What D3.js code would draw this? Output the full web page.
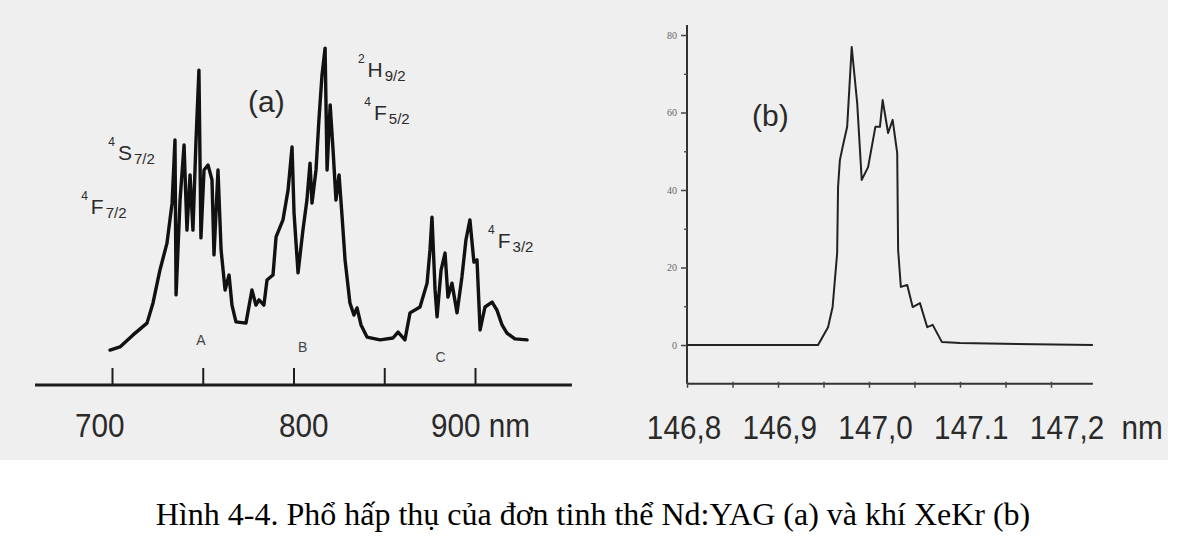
<!DOCTYPE html>
<html>
<head>
<meta charset="utf-8">
<script src="https://cdn.jsdelivr.net/npm/d3@7"></script>
<style>
  html, body { margin: 0; padding: 0; background: #ffffff; }
  svg { display: block; }
</style>
</head>
<body>
<svg id="chart" width="1180" height="542"></svg>
<script>
// ---------- DATA ----------
// Panel (a): Nd:YAG absorption spectrum (wavelength nm, arbitrary absorbance)
const ndyagWavelength = [698.9,704.4,711.6,719.3,722.6,726.4,730.3,733.1,734.7,735.3,737.5,739.7,741.3,743.0,744.6,746.3,747.9,749.0,750.7,752.9,755.1,756.2,758.4,760.1,762.3,764.5,766.1,768.3,773.8,777.1,779.3,781.0,783.7,785.4,788.7,790.4,794.2,797.0,799.2,800.3,802.5,805.2,807.4,809.1,810.2,812.4,814.0,815.7,817.4,818.5,820.2,821.8,823.4,825.1,826.7,828.4,831.1,833.3,835.0,837.2,840.5,847.7,854.8,857.6,861.4,864.2,869.7,873.6,875.2,876.3,878.0,879.1,881.3,883.5,885.1,887.3,890.1,892.8,895.0,897.2,899.4,901.1,902.8,905.5,909.4,912.1,914.9,917.6,922.0,928.7];
const ndyagAbsorbance = [3.2,4.2,8.1,11.9,18.4,29.0,37.7,50.6,71.0,21.0,51.6,69.4,41.9,59.7,41.9,71.0,93.5,39.4,61.3,62.9,58.1,33.9,61.3,35.5,22.6,27.4,17.7,12.3,11.9,22.6,17.7,19.4,17.7,25.8,27.4,39.7,45.2,54.8,68.7,47.4,28.1,41.9,51.6,63.5,50.6,61.3,77.4,91.9,100.6,61.3,82.3,67.7,51.6,59.7,46.8,32.3,18.4,14.5,16.8,11.3,7.4,6.5,7.1,9.0,6.5,15.2,17.1,24.8,35.5,46.1,22.6,13.9,29.0,34.5,20.3,24.8,15.2,26.8,38.7,45.2,31.6,32.3,9.7,17.1,18.7,16.1,11.3,8.7,6.8,6.5];
const ndyagTicks = [700, 750, 800, 850, 900];
const ndyagTickLabels = ["700", "800", "900 nm"];
const ndyagTickLabelAt = [679.6, 792.0, 875.8];   // nm where each label starts
const ndyagAxisExtent = [657.6, 953.4];
const ndyagBands = ["A", "B", "C"];
const ndyagBandAt = [[749.0, 5], [805.0, 2.6], [881.0, -0.6]];
const ndyagLevels = [
  { sup: "4", main: "S", sub: "7/2" },
  { sup: "4", main: "F", sub: "7/2" },
  { sup: "2", main: "H", sub: "9/2" },
  { sup: "4", main: "F", sub: "5/2" },
  { sup: "4", main: "F", sub: "3/2" }
];
const ndyagLevelAt = [[697.9, 64.5], [683.0, 47.1], [835.5, 91.3], [839.0, 77.4], [907.2, 36.1]];

// Panel (b): XeKr absorption spectrum
const xekrWavelength = [146.800,146.944,146.955,146.960,146.965,146.966,146.968,146.971,146.976,146.981,146.987,146.992,146.999,147.007,147.012,147.015,147.021,147.026,147.031,147.032,147.035,147.042,147.048,147.056,147.064,147.070,147.080,147.100,147.246];
const xekrAbsorbance = [0,0,4.6,9.8,23.7,40.8,47.7,51.1,56.3,76.9,62.5,42.6,45.9,56.3,56.3,63.2,54.7,58.1,49.5,24.5,15.0,15.5,9.8,10.8,4.6,5.2,0.8,0.5,0];
const xekrYTicks = [0, 20, 40, 60, 80];
const xekrYMinor = [10, 30, 50, 70];
const xekrXTicks = [146.80,146.85,146.90,146.95,147.00,147.05,147.10,147.15,147.20];
const xekrTickLabels = ["146,8", "146,9", "147,0", "147.1", "147,2"];
const xekrXExtent = [146.8, 147.246];
const xekrYExtent = [-10, 82.6];

const panelTags = ["(a)", "(b)"];
const caption = "Hình 4-4. Phổ hấp thụ của đơn tinh thể Nd:YAG (a) và khí XeKr (b)";

// ---------- DRAW ----------
const svg = d3.select("#chart");
const ink = "#1c1c1c";
const labelFont = "'Liberation Sans', Arial, sans-serif";
const narrow = 0.9;

// photographic figure background
svg.append("rect").attr("x", 0).attr("y", 0).attr("width", 1168).attr("height", 460)
  .attr("fill", "#efefef");

// ----- panel (a) -----
const xA = d3.scaleLinear().domain([700, 900]).range([112, 475]);
const yA = d3.scaleLinear().domain([0, 100]).range([360, 50]);
const axisYA = 385;

svg.append("line")
  .attr("x1", xA(ndyagAxisExtent[0])).attr("x2", xA(ndyagAxisExtent[1]))
  .attr("y1", axisYA).attr("y2", axisYA)
  .attr("stroke", ink).attr("stroke-width", 3);

const gAxA = svg.append("g").attr("transform", `translate(0,${axisYA})`)
  .call(d3.axisTop(xA).tickValues(ndyagTicks).tickSize(17).tickFormat(""));
gAxA.select(".domain").remove();
gAxA.selectAll(".tick line").attr("stroke", ink).attr("stroke-width", 2);

svg.append("g").selectAll("text").data(ndyagTickLabels).join("text")
  .attr("transform", (d, i) => `translate(${xA(ndyagTickLabelAt[i])},437) scale(${narrow},1)`)
  .attr("font-family", labelFont).attr("font-size", 33)
  .attr("fill", "#2a2a2a")
  .text(d => d);

const lineA = d3.line()
  .x((d, i) => xA(ndyagWavelength[i]))
  .y(d => yA(d));
svg.append("path").datum(ndyagAbsorbance)
  .attr("d", lineA)
  .attr("fill", "none").attr("stroke", "#111")
  .attr("stroke-width", 3.4).attr("stroke-linejoin", "round").attr("stroke-linecap", "round");

svg.append("g").selectAll("text").data(ndyagBands).join("text")
  .attr("x", (d, i) => xA(ndyagBandAt[i][0]))
  .attr("y", (d, i) => yA(ndyagBandAt[i][1]))
  .attr("text-anchor", "middle")
  .attr("font-family", "'Liberation Sans', sans-serif").attr("font-size", 14)
  .attr("fill", "#444")
  .text(d => d);

const lv = svg.append("g").selectAll("text").data(ndyagLevels).join("text")
  .attr("x", (d, i) => xA(ndyagLevelAt[i][0]))
  .attr("y", (d, i) => yA(ndyagLevelAt[i][1]))
  .attr("font-family", "'Liberation Sans', sans-serif")
  .attr("fill", "#2a2a2a");
lv.append("tspan").attr("font-size", 12).attr("dy", -14).text(d => d.sup);
lv.append("tspan").attr("font-size", 21).attr("dx", 3).attr("dy", 14).text(d => d.main);
lv.append("tspan").attr("font-size", 15).attr("dx", 2).attr("dy", 4).text(d => d.sub);

svg.append("text").attr("x", xA(700 + (248 - 112) / 1.815)).attr("y", 112)
  .attr("font-family", "'Liberation Sans', sans-serif").attr("font-size", 30)
  .attr("fill", "#2a2a2a").text(panelTags[0]);

// ----- panel (b) -----
const xB = d3.scaleLinear().domain([146.8, 147.2]).range([687, 1051]);
const yB = d3.scaleLinear().domain([0, 80]).range([345, 35]);
const axisYB = yB(xekrYExtent[0]);

// y axis line
svg.append("line")
  .attr("x1", xB(xekrXExtent[0])).attr("x2", xB(xekrXExtent[0]))
  .attr("y1", yB(xekrYExtent[0])).attr("y2", yB(xekrYExtent[1]))
  .attr("stroke", "#333").attr("stroke-width", 2);
// x axis line
svg.append("line")
  .attr("x1", xB(xekrXExtent[0])).attr("x2", xB(xekrXExtent[1]))
  .attr("y1", axisYB).attr("y2", axisYB)
  .attr("stroke", "#333").attr("stroke-width", 2);

const gYB = svg.append("g").attr("transform", `translate(${xB(xekrXExtent[0])},0)`)
  .call(d3.axisLeft(yB).tickValues(xekrYTicks).tickSize(6).tickPadding(4));
gYB.select(".domain").remove();
gYB.selectAll(".tick line").attr("stroke", "#444").attr("stroke-width", 1.5);
gYB.selectAll(".tick text").attr("font-family", "'Liberation Serif', serif")
  .attr("font-size", 10).attr("fill", "#666");

const gYBm = svg.append("g").attr("transform", `translate(${xB(xekrXExtent[0])},0)`)
  .call(d3.axisLeft(yB).tickValues(xekrYMinor).tickSize(3).tickFormat(""));
gYBm.select(".domain").remove();
gYBm.selectAll(".tick line").attr("stroke", "#555").attr("stroke-width", 1.5);

const gXB = svg.append("g").attr("transform", `translate(0,${axisYB})`)
  .call(d3.axisBottom(xB).tickValues(xekrXTicks).tickSize(4).tickFormat(""));
gXB.select(".domain").remove();
gXB.selectAll(".tick line").attr("stroke", "#444").attr("stroke-width", 1.5)
  .attr("y1", -2);

// zero baseline & spectrum
const lineB = d3.line()
  .x((d, i) => xB(xekrWavelength[i]))
  .y(d => yB(d));
svg.append("path").datum(xekrAbsorbance)
  .attr("d", lineB)
  .attr("fill", "none").attr("stroke", "#222")
  .attr("stroke-width", 2).attr("stroke-linejoin", "round");

const xBLabel = d3.scalePoint().domain(xekrTickLabels).range([684, 1067]);
svg.append("g").selectAll("text").data(xekrTickLabels).join("text")
  .attr("transform", d => `translate(${xBLabel(d)},439) scale(${narrow},1)`)
  .attr("text-anchor", "middle")
  .attr("font-family", labelFont).attr("font-size", 33)
  .attr("fill", "#2a2a2a")
  .text(d => d);
svg.append("text")
  .attr("transform", `translate(${xBLabel(xekrTickLabels[4]) + 75},439) scale(${narrow},1)`)
  .attr("text-anchor", "middle")
  .attr("font-family", labelFont).attr("font-size", 33)
  .attr("fill", "#2a2a2a").text("nm");

svg.append("text").attr("x", xB(146.8 + (752 - 687) / 910)).attr("y", 126)
  .attr("font-family", "'Liberation Sans', sans-serif").attr("font-size", 30)
  .attr("fill", "#2a2a2a").text(panelTags[1]);

// ----- caption -----
svg.append("text").attr("x", 593).attr("y", 525)
  .attr("text-anchor", "middle")
  .attr("font-family", "'Liberation Serif', 'Times New Roman', serif")
  .attr("font-size", 32).attr("fill", "#000")
  .text(caption);
</script>
</body>
</html>
